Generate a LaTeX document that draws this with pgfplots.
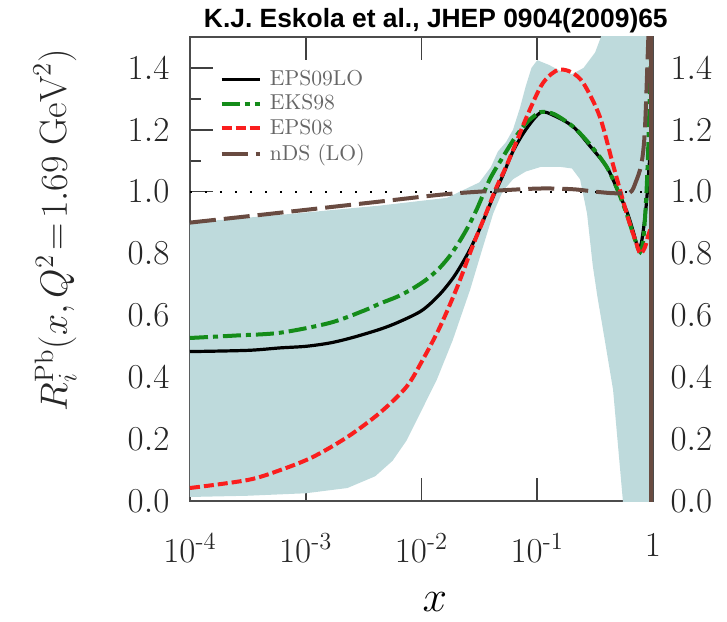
\RequirePackage{fix-cm}
\documentclass[border=0pt]{standalone}
\usepackage{amsmath}
\usepackage{fontspec}
\usepackage{pgfplots}
\pgfplotsset{compat=1.18}
\newfontfamily\titlefont{Liberation Sans}

\definecolor{bandcol}{RGB}{190,218,220}
\definecolor{eksgreen}{RGB}{20,140,25}
\definecolor{epsred}{RGB}{250,30,30}
\definecolor{ndsbrown}{RGB}{105,75,65}

\pgfplotsset{
  yfmt/.style={/pgf/number format/fixed, /pgf/number format/fixed zerofill,
    /pgf/number format/precision=1},
}

\begin{document}
\begin{tikzpicture}
\path[use as bounding box] (-95pt,-60pt) rectangle (268.5pt,250.5pt);
\begin{axis}[
  scale only axis, width=231.5pt, height=232pt,
  xmin=-4, xmax=0, ymin=0, ymax=1.5,
  xtick={-4,-3,-2,-1,0},
  xticklabels={$10^{\text{-}4}$,$10^{\text{-}3}$,$10^{\text{-}2}$,$10^{\text{-}1}$,$1$},
  ytick={0,0.2,0.4,0.6,0.8,1.0,1.2,1.4},
  minor ytick={0.1,0.3,0.5,0.7,0.9,1.1,1.3},
  yfmt,
  major tick length=11.5pt, minor tick length=5.5pt,
  every tick/.style={black!75, line width=0.8pt},
  axis line style={black!70, line width=0.8pt},
  tick label style={text=black!85},
  xticklabel style={font=\fontsize{17.5}{20}\selectfont, yshift=-13pt},
  yticklabel style={font=\fontsize{17.5}{20}\selectfont, xshift=-6.8pt},
  title={K.J. Eskola et al., JHEP 0904(2009)65},
  title style={at={(axis description cs:0.531,1.019)}, anchor=base, inner sep=0pt,
    yshift=-5.75pt, font=\titlefont\bfseries\fontsize{13.2}{15}\selectfont},
  xlabel={$x$},
  xlabel style={at={(axis description cs:0.529,-0.252)}, anchor=base, yshift=3pt,
    inner sep=0pt, font=\fontsize{22}{24}\selectfont},
  ylabel={$R_i^{\mathrm{Pb}}(x,Q^2\!=\!1.69\;\mathrm{GeV}^2)$},
  ylabel style={at={(axis description cs:-0.2916,0.584)}, anchor=center,
    font=\fontsize{19}{22}\selectfont, text=black!85},
  legend style={draw=none, fill=none, at={(axis description cs:0.05,0.945)},
    anchor=north west, font=\fontsize{10.8}{12}\selectfont, text=black!60,
    row sep=0pt, column sep=2.5pt, nodes={inner sep=1.6pt}},
  legend image code/.code={\draw[#1] (0cm,0cm) -- (0.67cm,0cm);},
  legend cell align=left,
]
% uncertainty band of EPS09LO
\addplot[fill=bandcol, draw=none, forget plot] coordinates {
  (-4,0.90) (-3.22,0.925) (-2.36,0.955) (-1.78,0.98) (-1.5,1.03) (-1.4,1.08)
  (-1.34,1.13) (-1.27,1.16)
  (-1.21,1.20) (-1.15,1.27) (-1.1,1.34) (-1.05,1.40) (-1.0,1.425) (-0.9,1.41)
  (-0.8,1.39) (-0.7,1.38) (-0.6,1.40) (-0.5,1.45) (-0.43,1.52) (-0.3,1.8) (0,2.0)
  (0,-0.5) (-0.2,-0.3) (-0.26,0.0) (-0.345,0.36) (-0.43,0.55) (-0.48,0.66)
  (-0.52,0.76) (-0.57,0.93) (-0.63,1.04) (-0.7,1.075) (-0.8,1.08) (-0.97,1.08)
  (-1.1,1.065) (-1.21,1.04) (-1.3,1.0) (-1.38,0.93) (-1.47,0.82) (-1.58,0.683)
  (-1.73,0.52) (-1.87,0.39) (-2.01,0.285) (-2.13,0.195) (-2.25,0.13)
  (-2.4,0.08) (-2.64,0.042) (-3.0,0.025) (-3.5,0.017) (-4,0.013)
};
% reference line at unity
\addplot[black, line width=1.1pt, dash pattern=on 1.1pt off 6.4pt, forget plot]
  coordinates {(-4,1) (0,1)};
\addplot[black, line width=1.6pt, smooth] coordinates {
  (-4,0.483) (-3.5,0.487) (-3.22,0.495) (-3,0.50) (-2.79,0.511) (-2.6,0.528)
  (-2.36,0.555) (-2.2,0.578) (-2.0,0.615) (-1.85,0.665) (-1.72,0.725) (-1.6,0.80)
  (-1.5,0.877) (-1.38,0.984) (-1.3,1.05) (-1.21,1.13) (-1.1,1.20) (-0.97,1.256)
  (-0.85,1.245) (-0.69,1.21) (-0.55,1.15) (-0.40,1.08) (-0.3,1.0) (-0.22,0.93)
  (-0.17,0.87) (-0.13,0.82) (-0.1,0.835) (-0.06,0.95) (-0.03,1.1) (0,1.25)
};
\addlegendentry{EPS09LO}
\addplot[eksgreen, line width=2pt, smooth, dash pattern=on 9pt off 2.5pt on 2.5pt off 2.5pt] coordinates {
  (-4,0.527) (-3.6,0.535) (-3.22,0.544) (-2.79,0.576) (-2.5,0.615) (-2.36,0.638)
  (-2.2,0.662) (-2.07,0.688) (-1.95,0.718) (-1.84,0.755) (-1.75,0.795)
  (-1.67,0.84) (-1.6,0.885) (-1.52,0.945) (-1.41,1.04) (-1.3,1.11) (-1.2,1.17)
  (-1.1,1.22) (-1.0,1.252) (-0.95,1.258) (-0.85,1.25) (-0.69,1.21)
  (-0.55,1.155) (-0.4,1.08) (-0.3,1.0) (-0.22,0.92) (-0.16,0.85) (-0.11,0.805)
  (-0.08,0.86) (-0.05,1.05) (-0.02,1.4) (0,1.7)
};
\addlegendentry{EKS98}
\addplot[epsred, line width=2pt, smooth, dash pattern=on 5pt off 2pt] coordinates {
  (-4,0.042) (-3.5,0.068) (-3.22,0.10) (-2.94,0.142) (-2.64,0.207) (-2.36,0.285)
  (-2.13,0.369) (-1.99,0.456) (-1.84,0.563) (-1.69,0.693) (-1.56,0.822)
  (-1.44,0.932) (-1.35,1.016) (-1.27,1.08) (-1.17,1.17) (-1.09,1.243)
  (-0.97,1.34) (-0.88,1.38) (-0.8,1.395) (-0.7,1.385)
  (-0.6,1.35) (-0.46,1.243) (-0.34,1.08) (-0.22,0.92) (-0.15,0.84) (-0.11,0.80)
  (-0.07,0.82) (-0.04,0.86) (0,0.9)
};
\addlegendentry{EPS08}
\addplot[ndsbrown, line width=2pt, smooth, dash pattern=on 13pt off 4pt] coordinates {
  (-4,0.90) (-3.22,0.932) (-2.36,0.968) (-1.84,0.99)
  (-1.5,1.0) (-1.0,1.01) (-0.7,1.008) (-0.5,1.0) (-0.34,0.995) (-0.2,0.997)
  (-0.15,1.03) (-0.1,1.09) (-0.07,1.2) (-0.04,1.5) (-0.02,1.7)
};
\addlegendentry{nDS (LO)}
\addplot[ndsbrown, line width=2.6pt, forget plot] coordinates {(-0.009,-0.1) (-0.009,1.6)};
\end{axis}
\begin{axis}[
  scale only axis, width=231.5pt, height=232pt,
  xmin=-4, xmax=0, ymin=0, ymax=1.5,
  hide x axis, axis line style={draw=none}, every tick/.style={draw=none},
  yticklabel pos=right,
  ytick={0,0.2,0.4,0.6,0.8,1.0,1.2,1.4},
  yfmt,
  yticklabel style={font=\fontsize{17.5}{20}\selectfont, xshift=5.3pt, text=black!85},
]
\end{axis}
\end{tikzpicture}
\end{document}
